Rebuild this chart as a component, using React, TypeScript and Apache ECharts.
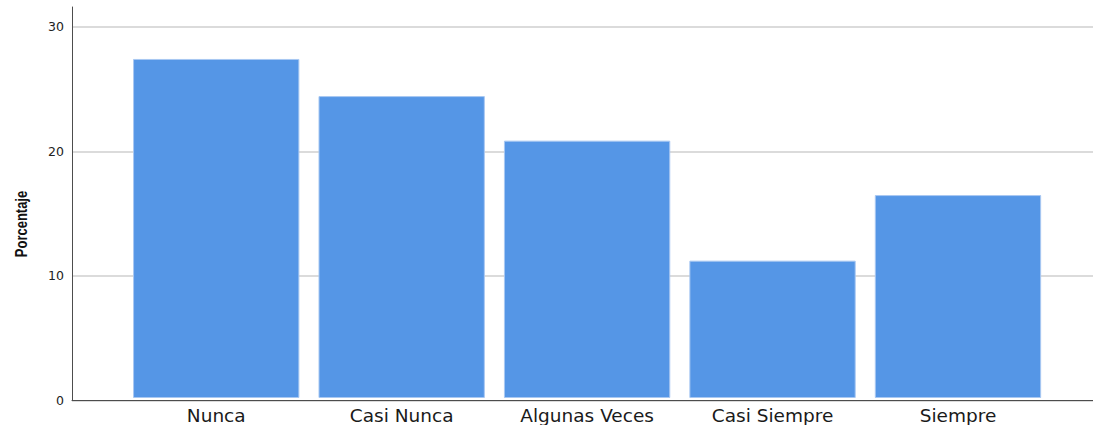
import React, { useEffect, useRef } from "react";
import * as echarts from "echarts";

const categories = ["Nunca", "Casi Nunca", "Algunas Veces", "Casi Siempre", "Siempre"];
const percentages = [27.4, 24.4, 20.8, 11.1, 16.4];
const yTicks = [0, 10, 20, 30];
const yAxisTitle = "Porcentaje";

const Y_MAX = 31.6;
const BAR_COLOR = "#5596e6";

export default function App() {
  const ref = useRef<HTMLDivElement>(null);
  useEffect(() => {
    if (!ref.current) return;
    const chart = echarts.init(ref.current, undefined, { renderer: "svg" });
    chart.setOption({
      animation: false,
      backgroundColor: "#ffffff",
      grid: [
        { left: 72, right: 0, top: 7, bottom: 24.5 },
        { left: 123.5, right: 42.3, top: 7, bottom: 24.5 },
      ],
      xAxis: [
        {
          gridIndex: 0,
          type: "value",
          min: 0,
          max: 1,
          axisLine: { show: true, lineStyle: { color: "#4d4d4d", width: 1 } },
          axisTick: { show: false },
          axisLabel: { show: false },
          splitLine: { show: false },
        },
        {
          gridIndex: 1,
          type: "category",
          data: categories,
          axisLine: { show: false },
          axisTick: { show: false },
          axisLabel: {
            margin: 8,
            fontFamily: "DejaVu Sans",
            fontSize: 18.5,
            color: "#1a1a1a",
          },
        },
      ],
      yAxis: [
        {
          gridIndex: 0,
          type: "value",
          min: 0,
          max: Y_MAX,
          interval: 10,
          axisLine: { show: true, lineStyle: { color: "#4d4d4d", width: 1 } },
          axisTick: { show: false },
          axisLabel: {
            margin: 8,
            fontFamily: "DejaVu Sans",
            fontSize: 12.5,
            color: "#222",
            formatter: (v: number) => (yTicks.includes(v) ? String(v) : ""),
          },
          splitLine: {
            show: true,
            showMaxLine: false,
            lineStyle: { color: "#cfcfcf", width: 1.5 },
          },
        },
        {
          gridIndex: 1,
          type: "value",
          min: 0,
          max: Y_MAX,
          show: false,
          splitLine: { show: false },
        },
      ],
      graphic: [
        {
          type: "text",
          x: 21,
          y: 224,
          rotation: Math.PI / 2,
          scaleY: 1.3,
          style: {
            text: yAxisTitle,
            fontFamily: "Liberation Sans",
            fontWeight: "bold",
            fontSize: 13,
            fill: "#111",
            align: "center",
            verticalAlign: "middle",
          },
        },
      ],
      series: [
        {
          type: "bar",
          xAxisIndex: 1,
          yAxisIndex: 1,
          data: percentages,
          barCategoryGap: "10.3%",
          itemStyle: {
            color: BAR_COLOR,
            borderColor: "#a9c8f2",
            borderWidth: 1,
          },
        },
      ],
    });
    return () => chart.dispose();
  }, []);
  return (
    <div
      ref={ref}
      style={{ position: "absolute", left: 0, top: 0, width: 1093, height: 425 }}
    />
  );
}
